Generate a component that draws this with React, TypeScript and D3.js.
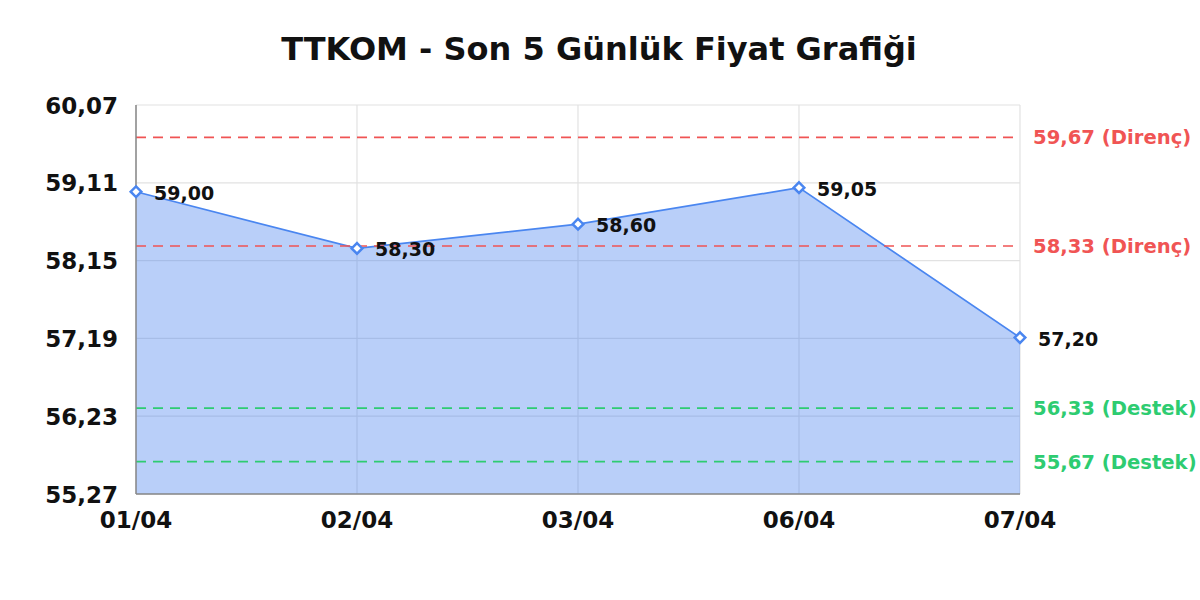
import React from "react";
import * as d3 from "d3";

const title = "TTKOM - Son 5 Günlük Fiyat Grafiği";
const dates = ["01/04", "02/04", "03/04", "06/04", "07/04"];
const prices = [59.0, 58.3, 58.6, 59.05, 57.2];
const yTicks = [55.27, 56.23, 57.19, 58.15, 59.11, 60.07];
const resistance = [59.67, 58.33];
const support = [56.33, 55.67];

const W = 1200;
const H = 600;
const M = { left: 136, right: 1020, top: 105, bottom: 494 };

const fmt = (v: number) => v.toFixed(2).replace(".", ",");
const FONT = "'DejaVu Sans', sans-serif";
const RED = "#f05454";
const GREEN = "#2ecc71";
const BLUE = "#4a86f0";

export default function App() {
  const x = d3.scalePoint<string>().domain(dates).range([M.left, M.right]);
  const y = d3.scaleLinear().domain([55.27, 60.07]).range([M.bottom, M.top]);
  const pts = dates.map((d, i) => ({ d, v: prices[i] }));
  const area = d3
    .area<{ d: string; v: number }>()
    .x((p) => x(p.d)!)
    .y0(M.bottom)
    .y1((p) => y(p.v));
  const line = d3
    .line<{ d: string; v: number }>()
    .x((p) => x(p.d)!)
    .y((p) => y(p.v));
  const refs = [
    ...resistance.map((v) => ({ v, c: RED, t: `${fmt(v)} (Direnç)` })),
    ...support.map((v) => ({ v, c: GREEN, t: `${fmt(v)} (Destek)` })),
  ];
  const diamond = d3.symbol().type(d3.symbolDiamond2).size(72)()!;

  return (
    <svg
      width={W}
      height={H}
      style={{ position: "absolute", left: 0, top: 0, background: "#fff" }}
      fontFamily={FONT}
    >
      <text x={599} y={60} textAnchor="middle" fontSize={32} fontWeight="bold" fill="#111">
        {title}
      </text>
      {/* grid */}
      {yTicks.map((t) => (
        <line key={"gy" + t} x1={M.left} x2={M.right} y1={y(t)} y2={y(t)} stroke="#e2e2e2" strokeWidth={1.2} />
      ))}
      {dates.map((d) => (
        <line key={"gx" + d} x1={x(d)} x2={x(d)} y1={M.top} y2={M.bottom} stroke="#e2e2e2" strokeWidth={1.2} />
      ))}
      {/* area */}
      <path d={area(pts)!} fill="rgba(70,130,240,0.38)" />
      <path d={line(pts)!} fill="none" stroke={BLUE} strokeWidth={1.7} />
      {/* reference lines */}
      {refs.map((r) => (
        <g key={"r" + r.v}>
          <line
            x1={M.left}
            x2={M.right}
            y1={y(r.v)}
            y2={y(r.v)}
            stroke={r.c}
            strokeWidth={1.6}
            strokeDasharray="10,7"
          />
          <text x={M.right + 13} y={y(r.v) + 7} fontSize={19.6} fontWeight="bold" fill={r.c}>
            {r.t}
          </text>
        </g>
      ))}
      {/* axes */}
      <line x1={M.left} x2={M.left} y1={M.top} y2={M.bottom} stroke="#888" strokeWidth={1.5} />
      <line x1={M.left} x2={M.right} y1={M.bottom} y2={M.bottom} stroke="#888" strokeWidth={1.5} />
      {yTicks.map((t) => (
        <text key={"yl" + t} x={118} y={y(t) + 8.5} textAnchor="end" fontSize={23} fontWeight="bold" fill="#111">
          {fmt(t)}
        </text>
      ))}
      {dates.map((d) => (
        <text key={"xl" + d} x={x(d)} y={528} textAnchor="middle" fontSize={23} fontWeight="bold" fill="#111">
          {d}
        </text>
      ))}
      {/* markers & labels */}
      {pts.map((p) => (
        <g key={"p" + p.d}>
          <path
            d={diamond}
            transform={`translate(${x(p.d)},${y(p.v)})`}
            fill="#fff"
            stroke={BLUE}
            strokeWidth={2.5}
          />
          <text x={x(p.d)! + 18} y={y(p.v) + 8} fontSize={19} fontWeight="bold" fill="#111">
            {fmt(p.v)}
          </text>
        </g>
      ))}
    </svg>
  );
}
